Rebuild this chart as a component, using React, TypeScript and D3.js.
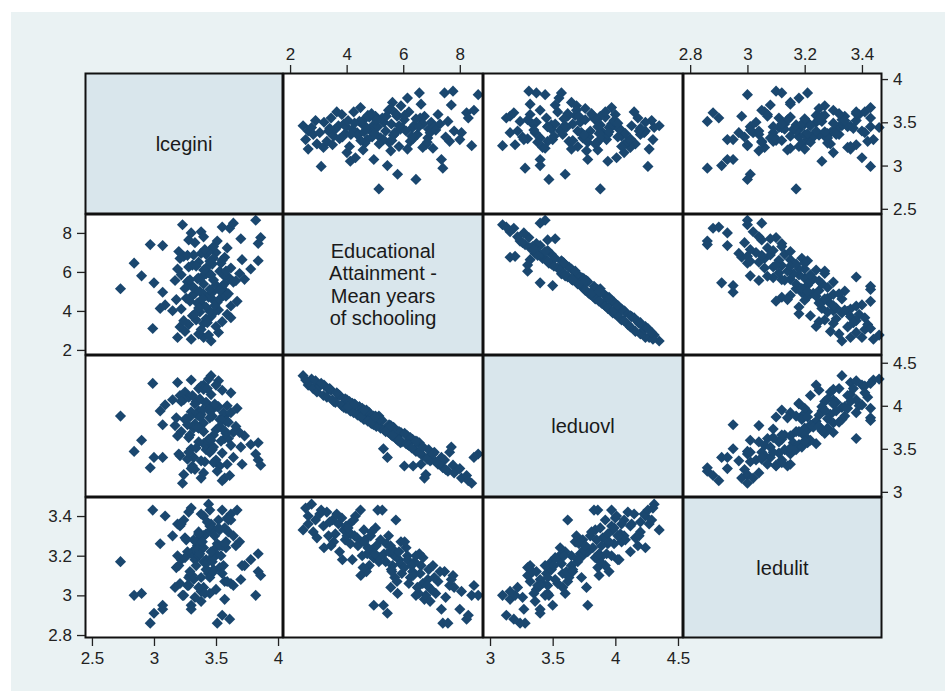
import React, { useEffect, useRef } from 'react';
import * as d3 from 'd3';

// variable names shown on the diagonal
const varLabels = [
  ['lcegini'],
  ['Educational', 'Attainment -', 'Mean years', 'of schooling'],
  ['leduovl'],
  ['ledulit'],
];

// observations (one entry per country, same order in every array)
const lcegini = [
  3.46, 3.40, 3.44, 3.19, 3.36, 3.30, 3.52, 3.25, 3.38, 3.21,
  3.40, 3.34, 3.46, 3.59, 3.28, 3.55, 3.42, 3.31, 3.48, 3.37,
  3.24, 3.62, 3.50, 3.33, 3.45, 3.15, 3.05, 3.09, 3.38, 3.67,
  3.53, 3.30, 3.07, 3.57, 3.42, 3.35, 3.48, 3.26, 3.56, 3.40,
  3.22, 3.62, 3.44, 3.33, 3.51, 3.18, 3.47, 3.36, 3.29, 3.58,
  2.73, 3.50, 3.00, 3.17, 3.73, 3.36, 2.90, 3.69, 3.45, 3.32,
  3.55, 3.40, 3.27, 3.48, 3.38, 3.60, 3.22, 3.44, 3.53, 3.30,
  3.64, 3.35, 3.42, 3.25, 3.57, 3.53, 3.19, 3.78, 3.44, 2.84,
  3.84, 3.71, 3.21, 3.57, 3.32, 3.50, 3.40, 3.28, 3.47, 3.36,
  3.55, 3.24, 3.42, 3.62, 3.31, 3.48, 3.38, 3.58, 3.45, 3.27,
  3.59, 3.07, 2.97, 3.84, 3.51, 3.28, 3.86, 3.38, 3.61, 3.23,
  3.82, 3.45, 3.33, 3.40, 3.55, 3.48, 3.64, 3.30, 3.20, 3.70,
  3.52, 3.39, 3.57, 3.46, 3.34, 3.60, 3.29, 3.43, 3.54, 3.37,
  3.49, 3.66, 2.99, 3.41,
];
const educ = [
  2.46, 2.64, 2.76, 2.64, 2.82, 2.55, 2.90, 2.95, 3.05, 3.18,
  3.36, 3.54, 3.71, 3.83, 3.30, 3.45, 3.60, 3.75, 3.90, 3.95,
  3.50, 3.65, 3.20, 3.85, 3.98, 4.01, 4.13, 4.31, 4.37, 4.49,
  4.61, 4.73, 4.96, 5.02, 4.20, 4.40, 4.55, 4.65, 4.80, 4.85,
  4.10, 4.25, 4.70, 4.90, 4.45, 4.58, 4.95, 4.15, 4.50, 4.75,
  5.14, 5.32, 5.44, 5.56, 5.62, 5.68, 5.80, 5.92, 5.10, 5.20,
  5.26, 5.38, 5.50, 5.58, 5.70, 5.74, 5.85, 5.95, 5.05, 5.30,
  5.48, 5.65, 5.90, 5.15, 5.78, 6.04, 6.15, 6.15, 6.33, 6.45,
  6.57, 6.63, 6.69, 6.75, 6.87, 6.99, 6.10, 6.25, 6.40, 6.50,
  6.60, 6.80, 6.90, 6.20, 6.35, 6.70, 6.95, 6.05, 6.55, 6.85,
  7.23, 7.35, 7.40, 7.46, 7.58, 7.64, 7.76, 8.06, 8.24, 8.42,
  8.65, 7.10, 7.50, 7.80, 8.30, 7.30, 8.50, 8.00, 7.05, 7.70,
  4.05, 4.62, 5.40, 5.85, 6.30, 4.88, 5.60, 3.40, 6.45, 5.00,
  4.28, 5.55, 3.10, 7.15,
];
const leduovl = [
  4.35, 4.24, 4.31, 4.27, 4.20, 4.30, 4.29, 4.16, 4.23, 4.12,
  4.19, 4.05, 4.13, 4.00, 4.10, 4.18, 4.04, 4.12, 3.98, 4.08,
  4.07, 4.15, 4.24, 4.02, 3.97, 4.07, 3.94, 4.01, 3.90, 3.97,
  3.84, 3.93, 3.78, 3.88, 4.03, 3.89, 3.97, 3.85, 3.92, 3.80,
  4.05, 3.92, 3.95, 3.79, 3.99, 3.86, 3.88, 3.94, 3.87, 3.82,
  3.88, 3.72, 3.40, 3.77, 3.65, 3.74, 3.60, 3.69, 3.86, 3.74,
  3.83, 3.70, 3.78, 3.66, 3.73, 3.62, 3.70, 3.58, 3.76, 3.50,
  3.69, 3.75, 3.57, 3.84, 3.62, 3.30, 3.65, 3.55, 3.61, 3.47,
  3.57, 3.32, 3.42, 3.16, 3.40, 3.37, 3.56, 3.63, 3.49, 3.58,
  3.45, 3.20, 3.49, 3.54, 3.30, 3.52, 3.36, 3.68, 3.46, 3.38,
  3.32, 3.40, 3.28, 3.37, 3.24, 3.46, 3.31, 3.16, 3.19, 3.10,
  3.44, 3.46, 3.26, 3.22, 3.13, 3.34, 3.40, 3.27, 3.44, 3.52,
  3.99, 3.95, 3.71, 3.60, 3.51, 3.81, 3.66, 4.20, 3.59, 3.87,
  4.02, 3.76, 4.26, 3.35,
];
const ledulit = [
  3.33, 3.40, 3.46, 3.36, 3.32, 3.44, 3.38, 3.29, 3.41, 3.35,
  3.30, 3.27, 3.36, 3.39, 3.42, 3.25, 3.31, 3.22, 3.33, 3.28,
  3.38, 3.41, 3.24, 3.18, 3.35, 3.30, 3.26, 3.40, 3.29, 3.43,
  3.33, 3.21, 2.95, 3.34, 3.18, 3.25, 3.20, 3.28, 3.15, 3.30,
  3.36, 3.38, 3.12, 3.23, 3.26, 3.14, 3.19, 3.31, 3.10, 3.24,
  3.17, 3.21, 2.91, 3.04, 3.15, 3.20, 3.01, 3.27, 3.43, 3.28,
  3.43, 3.17, 3.22, 3.13, 3.09, 3.38, 3.18, 3.11, 3.25, 2.95,
  3.30, 3.23, 3.16, 3.19, 3.07, 3.14, 3.20, 3.18, 3.12, 3.00,
  3.21, 3.15, 3.06, 2.98, 3.08, 3.03, 3.24, 3.09, 3.17, 3.04,
  3.11, 3.00, 3.13, 3.06, 3.10, 3.19, 2.97, 3.27, 3.01, 3.05,
  3.07, 2.93, 2.86, 3.12, 2.86, 3.05, 3.10, 3.02, 2.88, 3.00,
  3.00, 3.09, 2.99, 3.04, 2.90, 3.12, 3.05, 2.93, 3.15, 3.08,
  3.34, 3.27, 3.26, 3.22, 3.15, 3.32, 3.12, 3.37, 3.20, 3.21,
  3.30, 3.25, 3.43, 3.01,
];

// axis ticks for each variable
const ticks = [
  [2.5, 3, 3.5, 4],
  [2, 4, 6, 8],
  [3, 3.5, 4, 4.5],
  [2.8, 3, 3.2, 3.4],
];

// plot ranges used by each variable when it is on the x or the y axis
const xDomains: [number, number][] = [[2.444, 4.04], [1.75, 8.82], [2.944, 4.54], [2.775, 3.47]];
const yDomains: [number, number][] = [[2.44, 4.07], [1.74, 8.97], [2.94, 4.59], [2.785, 3.496]];

const colEdges = [85, 283, 483, 683, 882];
const rowEdges = [73, 214, 355, 497, 638];

const FONT = "'Liberation Sans', Arial, sans-serif";
const MARKER = '#1a476f';

const App: React.FC = () => {
  const svgRef = useRef<SVGSVGElement>(null);

  useEffect(() => {
    if (!svgRef.current) return;
    const svg = d3.select(svgRef.current);
    svg.selectAll('*').remove();

    const vars = [lcegini, educ, leduovl, ledulit];
    const n = lcegini.length;

    // outer graph region
    svg.append('rect').attr('x', 11).attr('y', 12).attr('width', 934).attr('height', 679).attr('fill', '#eaf2f3');

    const xs = xDomains.map((dom, j) => d3.scaleLinear().domain(dom).range([colEdges[j], colEdges[j + 1]]));
    const ys = yDomains.map((dom, i) => d3.scaleLinear().domain(dom).range([rowEdges[i + 1], rowEdges[i]]));

    const diamond = d3.symbol().type(d3.symbolSquare).size(62)();

    for (let i = 0; i < 4; i++) {
      for (let j = 0; j < 4; j++) {
        const x0 = colEdges[j] + 0.5;
        const y0 = rowEdges[i] + 0.5;
        const w = colEdges[j + 1] - colEdges[j] - 1;
        const h = rowEdges[i + 1] - rowEdges[i] - 1;
        const cell = svg.append('g');
        cell
          .append('rect')
          .attr('x', x0)
          .attr('y', y0)
          .attr('width', w)
          .attr('height', h)
          .attr('fill', i === j ? '#d9e6ec' : '#ffffff');

        if (i === j) {
          const lines = varLabels[i];
          const lh = 22.5;
          const cy = y0 + h / 2 - ((lines.length - 1) * lh) / 2;
          cell
            .append('text')
            .attr('text-anchor', 'middle')
            .attr('font-family', FONT)
            .attr('font-size', 20)
            .attr('fill', '#1a1a1a')
            .selectAll('tspan')
            .data(lines)
            .enter()
            .append('tspan')
            .attr('x', x0 + w / 2)
            .attr('y', (_, k) => cy + k * lh)
            .attr('dy', '0.35em')
            .text(d => d);
        } else {
          const xv = vars[j];
          const yv = vars[i];
          cell
            .selectAll('path')
            .data(d3.range(n))
            .enter()
            .append('path')
            .attr('d', diamond)
            .attr('fill', MARKER)
            .attr('transform', k => `translate(${xs[j](xv[k])},${ys[i](yv[k])}) rotate(45)`);
        }

        cell
          .append('rect')
          .attr('x', x0)
          .attr('y', y0)
          .attr('width', w)
          .attr('height', h)
          .attr('fill', 'none')
          .attr('stroke', '#111')
          .attr('stroke-width', 2);
      }
    }

    const styleAxis = (g: d3.Selection<SVGGElement, unknown, null, undefined>) => {
      g.select('.domain').remove();
      g.selectAll('line').attr('stroke', '#222').attr('stroke-width', 1.3);
      g.selectAll('text').attr('fill', '#222').attr('font-size', 17).attr('font-family', FONT);
    };
    const fmt = (d: d3.NumberValue) => String(d);

    // top axes: columns 2 and 4
    [1, 3].forEach(j => {
      svg
        .append('g')
        .attr('transform', `translate(0,${rowEdges[0]})`)
        .call(d3.axisTop(xs[j]).tickValues(ticks[j]).tickSize(8).tickPadding(5).tickFormat(fmt))
        .call(styleAxis);
    });
    // bottom axes: columns 1 and 3
    [0, 2].forEach(j => {
      svg
        .append('g')
        .attr('transform', `translate(0,${rowEdges[4]})`)
        .call(d3.axisBottom(xs[j]).tickValues(ticks[j]).tickSize(8).tickPadding(6).tickFormat(fmt))
        .call(styleAxis);
    });
    // left axes: rows 2 and 4
    [1, 3].forEach(i => {
      svg
        .append('g')
        .attr('transform', `translate(${colEdges[0]},0)`)
        .call(d3.axisLeft(ys[i]).tickValues(ticks[i]).tickSize(8).tickPadding(5).tickFormat(fmt))
        .call(styleAxis);
    });
    // right axes: rows 1 and 3
    [0, 2].forEach(i => {
      svg
        .append('g')
        .attr('transform', `translate(${colEdges[4]},0)`)
        .call(d3.axisRight(ys[i]).tickValues(ticks[i]).tickSize(6).tickPadding(5).tickFormat(fmt))
        .call(styleAxis);
    });
  }, []);

  return (
    <svg
      ref={svgRef}
      width={945}
      height={691}
      style={{ position: 'absolute', left: 0, top: 0, background: '#ffffff' }}
    />
  );
};

export default App;
